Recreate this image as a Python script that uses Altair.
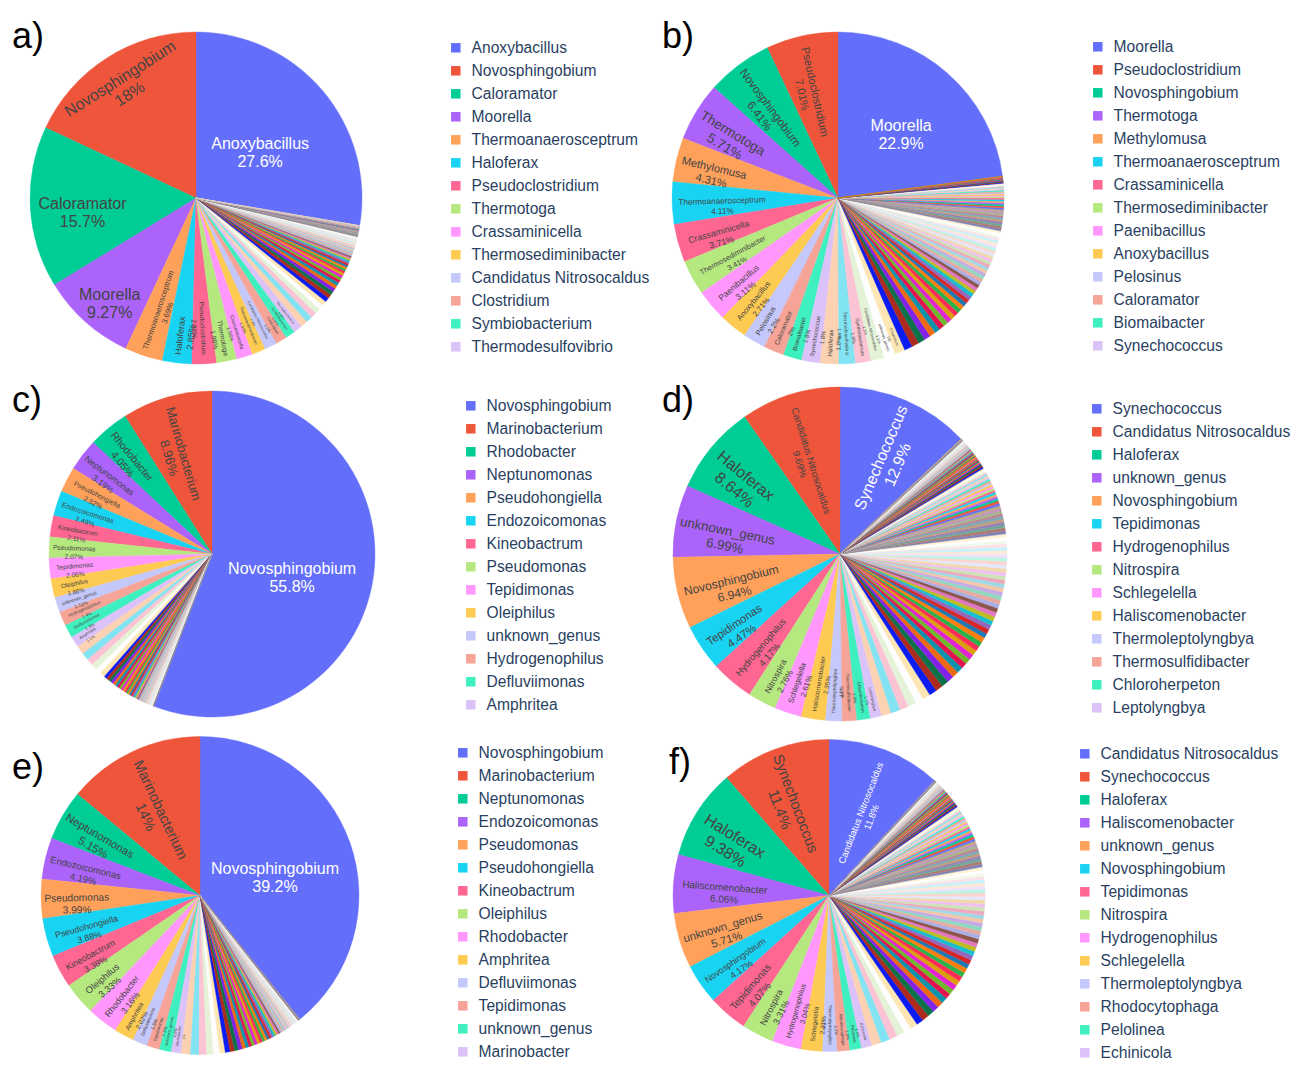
import math
import altair as alt
import pandas as pd

FONT = "Liberation Sans"

PALETTE = [
    "#636EFA", "#EF553B", "#00CC96", "#AB63FA", "#FFA15A", "#19D3F3", "#FF6692", "#B6E880", "#FF97FF", "#FECB52",
    "#C4C8FB", "#F5A497", "#3EF0BF", "#DBC2F8", "#FDD2B2", "#82E3F2", "#FBC3D3", "#E4F3D8", "#FDFDFD", "#FCE6B3",
    "#0B1CF2", "#AD2A1E", "#0D7149", "#8322E8", "#EE6A12", "#0E93AD", "#E3134F", "#6FB82C", "#E223D4", "#DC9E0D",
    "#FF2D55", "#2BB24C", "#FF7F0E", "#1F77B4", "#D62728", "#9467BD", "#17BECF", "#BCBD22", "#E377C2", "#8C564B",
    "#A9AEE6", "#E8A9A0", "#8FD9C0", "#C6AAE6", "#F2C6A6", "#9ED9E6", "#EEA8BD", "#CCE3B4", "#F0C0F0", "#F0D9A8",
    "#E5E7FD", "#FBD5CE", "#B8F5E2", "#EEE0FC", "#FEE8D6", "#C4F2FA", "#FDE0E8", "#F1F9EA", "#FFFFFF", "#FFF3D5",
    "#7F83B8", "#B07A74", "#6FA896", "#9580B5", "#C29C7E", "#78AAB8", "#BC8396", "#A3B58A", "#C391C0", "#BCAB7E",
]

# ---------------- panel a ----------------
A_NAMES = ["Anoxybacillus", "Novosphingobium", "Caloramator", "Moorella", "Thermoanaerosceptrum", "Haloferax",
           "Pseudoclostridium", "Thermotoga", "Crassaminicella", "Thermosediminibacter",
           "Candidatus Nitrosocaldus", "Clostridium", "Symbiobacterium", "Thermodesulfovibrio"]
A_VALUES = [27.6, 18, 15.7, 9.27, 3.69, 2.85, 2.38, 1.98, 1.55, 1.32, 1.2, 1.1, 0.95, 0.85]
A_TAIL = [0.68, 0.62, 0.57, 0.52, 0.48, 0.45, 0.42, 0.40, 0.37, 0.35, 0.33, 0.31, 0.29, 0.27, 0.25, 0.24,
          0.22, 0.21, 0.20, 0.19, 0.18, 0.17, 0.16, 0.155, 0.15, 0.14, 0.135, 0.13, 0.125, 0.12, 0.115, 0.11,
          0.105, 0.10, 0.098, 0.095, 0.092, 0.09, 0.087, 0.085, 0.082, 0.08, 0.078, 0.075, 0.072, 0.07,
          0.068, 0.066, 0.064, 0.062, 0.06, 0.058, 0.056, 0.054, 0.052, 0.05, 0.048, 0.046, 0.044, 0.042,
          0.04, 0.038, 0.036, 0.034, 0.032, 0.03, 0.028, 0.026, 0.024, 0.022, 0.02]

# ---------------- panel b ----------------
B_NAMES = ["Moorella", "Pseudoclostridium", "Novosphingobium", "Thermotoga", "Methylomusa", "Thermoanaerosceptrum",
           "Crassaminicella", "Thermosediminibacter", "Paenibacillus", "Anoxybacillus", "Pelosinus", "Caloramator",
           "Biomaibacter", "Synechococcus", "Haloferax", "Thermodesulfovibrio", "Symbiobacterium",
           "Candidatus Nitrosocaldus", "unknown_genus", "Clostridium"]
B_VALUES = [22.9, 7.01, 6.41, 5.71, 4.31, 4.11, 3.71, 3.41, 3.11, 2.71, 2.2, 2.0, 1.8, 1.8,
            1.8, 1.6, 1.5, 1.3, 1.1, 1.0]
B_TAIL = [0.78, 0.72, 0.66, 0.62, 0.58, 0.55, 0.52, 0.49, 0.46, 0.44,
          0.42, 0.40, 0.38, 0.36, 0.34, 0.34, 0.33, 0.33, 0.32, 0.32,
          0.31, 0.31, 0.30, 0.30, 0.29, 0.29, 0.28, 0.28, 0.27, 0.27,
          0.26, 0.26, 0.25, 0.25, 0.24, 0.24, 0.23, 0.23, 0.22, 0.22,
          0.21, 0.21, 0.20, 0.20, 0.19, 0.19, 0.18, 0.18, 0.17, 0.17,
          0.16, 0.155, 0.15, 0.145, 0.14, 0.135, 0.13, 0.125, 0.12, 0.115,
          0.11, 0.105, 0.10, 0.095, 0.09, 0.085, 0.08, 0.076, 0.072, 0.068,
          0.064, 0.06, 0.056, 0.052, 0.048, 0.044, 0.04, 0.036, 0.032, 0.028,
          0.45, 0.41, 0.37]

# ---------------- panel c ----------------
C_NAMES = ["Novosphingobium", "Marinobacterium", "Rhodobacter", "Neptunomonas", "Pseudohongiella", "Endozoicomonas",
           "Kineobactrum", "Pseudomonas", "Tepidimonas", "Oleiphilus", "unknown_genus", "Hydrogenophilus",
           "Defluviimonas", "Amphritea"]
C_VALUES = [55.8, 8.96, 4.05, 3.19, 2.52, 2.49, 2.11, 2.07, 2.06, 1.86, 1.51, 1.4, 1.3, 1.1]
C_TAIL = [0.85, 0.75, 0.66, 0.6, 0.55, 0.5,
          0.3, 0.29, 0.27, 0.26, 0.25, 0.24, 0.23, 0.22, 0.21, 0.2, 0.19, 0.18, 0.18, 0.17, 0.16, 0.16,
          0.15, 0.14, 0.13, 0.125, 0.12, 0.115, 0.11, 0.105, 0.1, 0.095, 0.09, 0.085, 0.08, 0.076, 0.072,
          0.068, 0.064, 0.06, 0.056, 0.052, 0.048, 0.044, 0.04, 0.036, 0.032, 0.028, 0.024, 0.02]

# ---------------- panel d ----------------
D_NAMES = ["Synechococcus", "Candidatus Nitrosocaldus", "Haloferax", "unknown_genus", "Novosphingobium",
           "Tepidimonas", "Hydrogenophilus", "Nitrospira", "Schlegelella", "Haliscomenobacter",
           "Thermoleptolyngbya", "Thermosulfidibacter", "Chloroherpeton", "Leptolyngbya"]
D_VALUES = [12.9, 9.69, 8.64, 6.99, 6.94, 4.47, 4.17, 2.76, 2.61, 2.35, 1.6, 1.4, 1.3, 1.1]
D_TAIL = [0.95, 0.9, 0.85, 0.8, 0.75, 0.7,
          0.78, 0.74, 0.7, 0.66, 0.62, 0.59, 0.56, 0.53, 0.5, 0.48,
          0.46, 0.45, 0.44, 0.43, 0.42, 0.41, 0.4, 0.39, 0.38, 0.37,
          0.36, 0.36, 0.35, 0.34, 0.33, 0.32, 0.31, 0.3, 0.29, 0.28,
          0.27, 0.26, 0.26, 0.25, 0.24, 0.23, 0.22, 0.22, 0.21, 0.2,
          0.2, 0.19, 0.19, 0.18, 0.18, 0.17, 0.17, 0.16, 0.16, 0.15,
          0.15, 0.145, 0.14, 0.135, 0.13, 0.125, 0.12, 0.115, 0.11, 0.105,
          0.1, 0.098, 0.095, 0.092, 0.09, 0.087, 0.085, 0.082, 0.08, 0.078,
          0.075, 0.072, 0.07, 0.068, 0.066, 0.064, 0.062, 0.06, 0.058, 0.056,
          0.054, 0.052, 0.05, 0.048, 0.046, 0.044, 0.042, 0.04, 0.038, 0.036,
          0.034, 0.032, 0.03, 0.028, 0.026, 0.024, 0.022, 0.02, 0.018, 0.016,
          0.52, 0.5, 0.48, 0.46, 0.44, 0.42, 0.4, 0.38, 0.36, 0.34, 0.32, 0.3, 0.28, 0.26, 0.24, 0.22,
          0.2, 0.18, 0.34, 0.32]

# ---------------- panel e ----------------
E_NAMES = ["Novosphingobium", "Marinobacterium", "Neptunomonas", "Endozoicomonas", "Pseudomonas", "Pseudohongiella",
           "Kineobactrum", "Oleiphilus", "Rhodobacter", "Amphritea", "Defluviimonas", "Tepidimonas",
           "unknown_genus", "Marinobacter"]
E_VALUES = [39.2, 14, 5.15, 4.19, 3.99, 3.88, 3.38, 3.33, 3.16, 2.02, 1.5, 1.3, 1.2, 1.0]
E_TAIL = [0.95, 0.85, 0.78, 0.7, 0.62, 0.55,
          0.5, 0.46, 0.42, 0.39, 0.36, 0.33, 0.31, 0.3, 0.29, 0.28, 0.27, 0.26, 0.25, 0.24, 0.23,
          0.22, 0.21, 0.2, 0.19, 0.18, 0.18, 0.17, 0.16, 0.15, 0.14, 0.13, 0.12, 0.12, 0.11, 0.105,
          0.1, 0.095, 0.09, 0.085, 0.08, 0.075, 0.07, 0.065, 0.06, 0.055, 0.05, 0.045, 0.04, 0.035, 0.03]

# ---------------- panel f ----------------
F_NAMES = ["Candidatus Nitrosocaldus", "Synechococcus", "Haloferax", "Haliscomenobacter", "unknown_genus",
           "Novosphingobium", "Tepidimonas", "Nitrospira", "Hydrogenophilus", "Schlegelella",
           "Thermoleptolyngbya", "Rhodocytophaga", "Pelolinea", "Echinicola"]
F_VALUES = [11.8, 11.4, 9.38, 6.06, 5.71, 4.17, 4.07, 3.31, 3.04, 2.21, 1.5, 1.3, 1.2, 1.1]
F_TAIL = [1.0, 0.92, 0.86, 0.8, 0.76, 0.72,
          0.76, 0.72, 0.69, 0.65, 0.62, 0.6, 0.57, 0.55, 0.52, 0.5,
          0.48, 0.47, 0.46, 0.44, 0.43, 0.42, 0.41, 0.4, 0.39, 0.38,
          0.37, 0.36, 0.35, 0.34, 0.33, 0.32, 0.31, 0.3, 0.29, 0.28,
          0.27, 0.27, 0.26, 0.25, 0.24, 0.24, 0.23, 0.22, 0.21, 0.21,
          0.2, 0.2, 0.19, 0.18, 0.18, 0.17, 0.16, 0.16, 0.15, 0.15,
          0.14, 0.14, 0.13, 0.13, 0.12, 0.12, 0.115, 0.11, 0.105, 0.1,
          0.098, 0.095, 0.092, 0.09, 0.087, 0.084, 0.081, 0.078, 0.075, 0.072,
          0.07, 0.068, 0.065, 0.062, 0.06, 0.058, 0.055, 0.052, 0.05, 0.048,
          0.046, 0.044, 0.042, 0.04, 0.038, 0.036, 0.034, 0.032, 0.03, 0.028,
          0.026, 0.024, 0.022, 0.02, 0.018, 0.016, 0.014, 0.012,
          0.55, 0.53, 0.5, 0.48, 0.46, 0.44, 0.42, 0.4, 0.38, 0.36, 0.34, 0.32, 0.3, 0.28, 0.26,
          0.24, 0.22, 0.2, 0.18, 0.16, 0.14, 0.1, 0.41]

HORIZONTAL = {"a": ["Anoxybacillus", "Caloramator", "Moorella"], "b": ["Moorella"],
              "c": ["Novosphingobium"], "d": [], "e": ["Novosphingobium"], "f": []}
TANGENTIAL = {"a": ["Novosphingobium"], "b": [], "c": [], "d": [], "e": [], "f": []}


def panel_table(key, names, values, tail, radius):
    vals = list(values) + sorted(tail, reverse=True)
    n_all = len(vals)
    full = list(names) + [f"{key}-{i}" for i in range(len(names) + 1, n_all + 1)]
    total = sum(vals)
    ords = [0 if r == 1 else n_all + 1 - r for r in range(1, n_all + 1)]
    mids = [0.0] * n_all
    midv = [0.0] * n_all
    acc = 0.0
    for i in sorted(range(n_all), key=lambda k: ords[k]):
        midv[i] = acc + vals[i] / 2
        mids[i] = midv[i] / total * 360.0
        acc += vals[i]
    rows = []
    for i in range(n_all):
        v = vals[i]
        nm = full[i]
        mid = mids[i]
        label, ang, fs, rl = "", 0.0, 0.0, radius * 0.7
        if i < len(names):
            pct = f"{v:.3g}%"
            if nm in HORIZONTAL[key] and i < 4:
                ang, fs = 0.0, 16.0
                rl = radius * min(0.8, max(0.5, 0.92 - 0.015 * v))
            elif nm in TANGENTIAL[key] and i < 4:
                ang = mid if mid <= 90 else (mid - 180 if mid <= 270 else mid - 360)
                fs, rl = 16.0, radius * 0.85
            else:
                dth = v / total * 2 * math.pi
                n = max(len(nm), len(pct))
                fs = min(radius * dth / (2.4 + 0.55 * n * dth), 16.0, 0.85 * radius / (0.55 * n))
                ang = mid - 90 if mid <= 180 else mid - 270
                rl = radius - 0.275 * fs * n - 5
            if fs >= 3:
                label = nm + "\n" + pct
        rows.append({"name": nm, "value": v, "rank": i + 1, "ord": ords[i], "midv": midv[i],
                     "label": label, "angle": ang, "fs": fs, "rlab": rl})
    return pd.DataFrame(rows), full


def panel(key, names, values, tail, radius, width, height, lx, ly, tx, ty):
    df, domain = panel_table(key, names, values, tail, radius)
    cscale = alt.Scale(domain=domain, range=PALETTE)
    arcs = alt.Chart(df).mark_arc(outerRadius=radius, strokeWidth=0.4).encode(
        theta=alt.Theta("value:Q", stack=True),
        order=alt.Order("ord:Q", sort="ascending"),
        color=alt.Color(
            "name:N",
            scale=cscale,
            legend=alt.Legend(title=None, values=names[:14], orient="none", legendX=lx, legendY=ly,
                              direction="vertical"),
        ),
        stroke=alt.Stroke("name:N", scale=cscale, legend=None),
    )
    labels = alt.Chart(df).transform_filter("datum.label != ''").mark_text(
        font=FONT, lineBreak="\n", align="center", baseline="middle"
    ).encode(
        theta=alt.Theta("midv:Q", stack=None),
        text=alt.Text("label:N"),
        radius=alt.Radius("rlab:Q", scale=None),
        angle=alt.Angle("angle:Q", scale=None),
        size=alt.Size("fs:Q", scale=None),
        color=alt.condition(alt.datum.rank == 1, alt.value("#ffffff"), alt.value("#444444")),
    )
    letter = alt.Chart(pd.DataFrame({"t": [key + ")"]})).mark_text(
        font=FONT, fontSize=36, align="left", baseline="alphabetic", color="#000000"
    ).encode(text="t:N", x=alt.value(tx), y=alt.value(ty))
    return alt.layer(arcs, labels, letter).properties(width=width, height=height)


pa = panel("a", A_NAMES, A_VALUES, A_TAIL, 166, 376, 350, 440, 17, 4, 25)
pb = panel("b", B_NAMES, B_VALUES, B_TAIL, 166, 376, 350, 440, 16, 12, 25)
pc = panel("c", C_NAMES, C_VALUES, C_TAIL, 163, 408, 350, 455, 19, 4, 33)
pd_ = panel("d", D_NAMES, D_VALUES, D_TAIL, 167, 376, 350, 437, 22, 10, 33)
pe = panel("e", E_NAMES, E_VALUES, E_TAIL, 159, 384, 321, 447, 10, 4, 44)
pf = panel("f", F_NAMES, F_VALUES, F_TAIL, 156, 376, 321, 436, 11, 28, 39)

RES = dict(color="independent", theta="independent", stroke="independent")
row1 = alt.hconcat(pa, pb, spacing=0).resolve_scale(**RES)
row2 = alt.hconcat(pc, pd_, spacing=40).resolve_scale(**RES)
row3 = alt.hconcat(pe, pf, spacing=37).resolve_scale(**RES)

chart = (
    alt.vconcat(row1, row2, row3, spacing=6)
    .resolve_scale(**RES)
    .properties(padding={"top": 11, "left": 0, "right": 0, "bottom": 0}, background="white")
    .configure_view(strokeWidth=0)
    .configure_legend(
        symbolType="square", symbolSize=90, symbolStrokeWidth=0, labelFontSize=15.6, labelFont=FONT,
        labelColor="#2a3f5f", rowPadding=6, labelOffset=8, labelLimit=400, padding=0,
    )
)

chart.save("out.html", embed_options={"renderer": "svg", "actions": False})
